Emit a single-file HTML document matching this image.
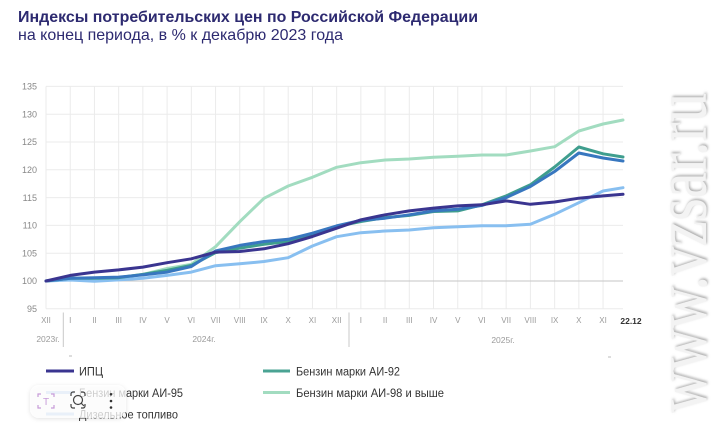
<!DOCTYPE html>
<html><head><meta charset="utf-8"><style>
html,body{margin:0;padding:0;background:#fff;}
svg{display:block;}
</style></head><body>
<svg width="716" height="431" viewBox="0 0 716 431" xmlns="http://www.w3.org/2000/svg" font-family="Liberation Sans, Arial, sans-serif">
<defs>
<filter id="wm" x="-20%" y="-20%" width="140%" height="140%">
<feDropShadow dx="1.5" dy="1" stdDeviation="1.3" flood-color="#8a8a8a" flood-opacity="0.7"/>
</filter>
<filter id="tb" x="-20%" y="-30%" width="140%" height="160%">
<feDropShadow dx="0" dy="1" stdDeviation="2" flood-color="#000" flood-opacity="0.15"/>
</filter>
</defs>
<rect width="716" height="431" fill="#fff"/>
<text x="18" y="22" font-size="16" font-weight="bold" fill="#2d2a70" textLength="460" lengthAdjust="spacingAndGlyphs">Индексы потребительских цен по Российской Федерации</text>
<text x="18" y="40" font-size="16" fill="#2d2a70" textLength="325" lengthAdjust="spacingAndGlyphs">на конец периода, в % к декабрю 2023 года</text>

<g stroke="#ebebeb" stroke-width="1">
<line x1="46" y1="86.4" x2="623" y2="86.4"/>
<line x1="46" y1="114.2" x2="623" y2="114.2"/>
<line x1="46" y1="142" x2="623" y2="142"/>
<line x1="46" y1="169.8" x2="623" y2="169.8"/>
<line x1="46" y1="197.6" x2="623" y2="197.6"/>
<line x1="46" y1="225.4" x2="623" y2="225.4"/>
<line x1="46" y1="253.2" x2="623" y2="253.2"/>
<line x1="46" y1="308.8" x2="623" y2="308.8"/>
<line x1="46" y1="86.4" x2="46" y2="308.8"/>
<line x1="70.22" y1="86.4" x2="70.22" y2="308.8"/>
<line x1="94.44" y1="86.4" x2="94.44" y2="308.8"/>
<line x1="118.66" y1="86.4" x2="118.66" y2="308.8"/>
<line x1="142.88" y1="86.4" x2="142.88" y2="308.8"/>
<line x1="167.1" y1="86.4" x2="167.1" y2="308.8"/>
<line x1="191.32" y1="86.4" x2="191.32" y2="308.8"/>
<line x1="215.54" y1="86.4" x2="215.54" y2="308.8"/>
<line x1="239.76" y1="86.4" x2="239.76" y2="308.8"/>
<line x1="263.98" y1="86.4" x2="263.98" y2="308.8"/>
<line x1="288.2" y1="86.4" x2="288.2" y2="308.8"/>
<line x1="312.42" y1="86.4" x2="312.42" y2="308.8"/>
<line x1="336.64" y1="86.4" x2="336.64" y2="308.8"/>
<line x1="360.86" y1="86.4" x2="360.86" y2="308.8"/>
<line x1="385.08" y1="86.4" x2="385.08" y2="308.8"/>
<line x1="409.3" y1="86.4" x2="409.3" y2="308.8"/>
<line x1="433.52" y1="86.4" x2="433.52" y2="308.8"/>
<line x1="457.74" y1="86.4" x2="457.74" y2="308.8"/>
<line x1="481.96" y1="86.4" x2="481.96" y2="308.8"/>
<line x1="506.18" y1="86.4" x2="506.18" y2="308.8"/>
<line x1="530.4" y1="86.4" x2="530.4" y2="308.8"/>
<line x1="554.62" y1="86.4" x2="554.62" y2="308.8"/>
<line x1="578.84" y1="86.4" x2="578.84" y2="308.8"/>
<line x1="603.06" y1="86.4" x2="603.06" y2="308.8"/>
</g>
<line x1="46" y1="281" x2="623" y2="281" stroke="#c6c6c6" stroke-width="1"/>

<g font-size="9" fill="#888" text-anchor="end">
<text x="37" y="89.6">135</text>
<text x="37" y="117.4">130</text>
<text x="37" y="145.2">125</text>
<text x="37" y="173">120</text>
<text x="37" y="200.8">115</text>
<text x="37" y="228.6">110</text>
<text x="37" y="256.4">105</text>
<text x="37" y="284.2">100</text>
<text x="37" y="312">95</text>
</g>

<g font-size="8" fill="#9a9a9a" text-anchor="middle">
<text x="46" y="323">XII</text>
<text x="70.22" y="323">I</text>
<text x="94.44" y="323">II</text>
<text x="118.66" y="323">III</text>
<text x="142.88" y="323">IV</text>
<text x="167.1" y="323">V</text>
<text x="191.32" y="323">VI</text>
<text x="215.54" y="323">VII</text>
<text x="239.76" y="323">VIII</text>
<text x="263.98" y="323">IX</text>
<text x="288.2" y="323">X</text>
<text x="312.42" y="323">XI</text>
<text x="336.64" y="323">XII</text>
<text x="360.86" y="323">I</text>
<text x="385.08" y="323">II</text>
<text x="409.3" y="323">III</text>
<text x="433.52" y="323">IV</text>
<text x="457.74" y="323">V</text>
<text x="481.96" y="323">VI</text>
<text x="506.18" y="323">VII</text>
<text x="530.4" y="323">VIII</text>
<text x="554.62" y="323">IX</text>
<text x="578.84" y="323">X</text>
<text x="603.06" y="323">XI</text>
</g>
<g font-size="8.5" fill="#9a9a9a" text-anchor="middle">
<text x="48" y="342">2023г.</text>
<text x="204" y="342">2024г.</text>
<text x="503" y="343">2025г.</text>
</g>
<text x="631" y="324" font-size="8.5" font-weight="bold" fill="#333" text-anchor="middle">22.12</text>
<line x1="63.3" y1="312.5" x2="63.3" y2="347" stroke="#c8c8c8" stroke-width="1"/>
<line x1="349" y1="312.5" x2="349" y2="347" stroke="#c8c8c8" stroke-width="1"/>
<line x1="69" y1="356" x2="72" y2="356" stroke="#bbb" stroke-width="1"/>
<line x1="608" y1="357" x2="611" y2="357" stroke="#bbb" stroke-width="1"/>

<g fill="none" stroke-width="3" stroke-linejoin="round" stroke-linecap="round">
<polyline stroke="#a2dcc0" points="46,281 70.22,279.3 94.44,278.2 118.66,277.5 142.88,274.5 167.1,268.5 191.32,264.3 215.54,246.7 239.76,221.7 263.98,198.3 288.2,186 312.42,177.3 336.64,167.3 360.86,162.7 385.08,160 409.3,159 433.52,157.3 457.74,156.3 481.96,155 506.18,155 530.4,151 554.62,146.7 578.84,131 603.06,124 623,120"/>
<polyline stroke="#88bff0" points="46,281 70.22,280 94.44,281.3 118.66,279.9 142.88,278.2 167.1,275.4 191.32,272.1 215.54,265.7 239.76,263.8 263.98,261.5 288.2,257.7 312.42,246 336.64,236.7 360.86,232.7 385.08,231 409.3,230 433.52,227.7 457.74,226.7 481.96,225.7 506.18,225.7 530.4,224.3 554.62,214.3 578.84,202.7 603.06,191 623,187.7"/>
<polyline stroke="#3f9e8e" points="46,281 70.22,278.2 94.44,278.2 118.66,277.7 142.88,274.3 167.1,270.4 191.32,265.4 215.54,252.6 239.76,248.2 263.98,244.3 288.2,241.5 312.42,234.9 336.64,226.5 360.86,221.5 385.08,217.6 409.3,215.4 433.52,211.5 457.74,210.9 481.96,204.8 506.18,195.9 530.4,184.8 554.62,167 578.84,147 603.06,153.8 623,157"/>
<polyline stroke="#3877bf" points="46,281 70.22,278.2 94.44,277.7 118.66,277.1 142.88,274.9 167.1,272.1 191.32,266.5 215.54,251 239.76,245.4 263.98,241.5 288.2,239.3 312.42,233.2 336.64,225.9 360.86,220.4 385.08,218.2 409.3,214.8 433.52,210.9 457.74,209.3 481.96,205.4 506.18,197.6 530.4,186.5 554.62,171.5 578.84,153 603.06,158 623,161"/>
<polyline stroke="#3a3590" points="46,281 70.22,275.4 94.44,272.1 118.66,269.9 142.88,267.1 167.1,262.7 191.32,258.8 215.54,252.1 239.76,251.5 263.98,248.8 288.2,243.7 312.42,236.5 336.64,228.2 360.86,219.8 385.08,214.8 409.3,210.9 433.52,208.1 457.74,205.9 481.96,204.8 506.18,200.9 530.4,204.3 554.62,202 578.84,198.2 603.06,195.9 623,194.3"/>
</g>

<g stroke-width="3" stroke-linecap="butt">
<line x1="46" y1="371" x2="74" y2="371" stroke="#3a3590"/>
<line x1="46" y1="392.5" x2="74" y2="392.5" stroke="#a9cbf0"/>
<line x1="46" y1="414" x2="74" y2="414" stroke="#a9cbf0"/>
<line x1="263" y1="371" x2="290" y2="371" stroke="#4aa393"/>
<line x1="263" y1="392.5" x2="290" y2="392.5" stroke="#a2dcc0"/>
</g>
<g font-size="11.5" fill="#333">
<text x="79" y="375.5" textLength="24" lengthAdjust="spacingAndGlyphs">ИПЦ</text>
<text x="79" y="397" textLength="104" lengthAdjust="spacingAndGlyphs">Бензин марки АИ-95</text>
<text x="79" y="418.5" textLength="99" lengthAdjust="spacingAndGlyphs">Дизельное топливо</text>
<text x="296" y="375.5" textLength="104" lengthAdjust="spacingAndGlyphs">Бензин марки АИ-92</text>
<text x="296" y="397" textLength="148" lengthAdjust="spacingAndGlyphs">Бензин марки АИ-98 и выше</text>
</g>

<g filter="url(#tb)">
<rect x="30" y="385" width="96" height="33" rx="9" fill="#fff" fill-opacity="0.75"/>
</g>
<g fill="none" stroke="#c79bd9" stroke-width="1.2">
<path d="M38,397 v-3 h3 M51,394 h3 v3 M54,405 v3 h-3 M41,408 h-3 v-3"/>
</g>
<text x="46" y="405" font-size="10" fill="#c79bd9" text-anchor="middle">T</text>
<g fill="none" stroke="#444" stroke-width="1.2">
<circle cx="78" cy="400" r="4.5"/>
<line x1="81.3" y1="403.3" x2="84" y2="406"/>
<path d="M71,396 v-2 a2,2 0 0 1 2,-2 h2 M81,392 h2 a2,2 0 0 1 2,2 v2 M85,404 v2 a2,2 0 0 1 -2,2 h-2 M75,408 h-2 a2,2 0 0 1 -2,-2 v-2"/>
</g>
<g fill="#333">
<circle cx="111" cy="394.3" r="1.3"/>
<circle cx="111" cy="401" r="1.3"/>
<circle cx="111" cy="407.5" r="1.3"/>
</g>

<text transform="translate(706,413) rotate(-90)" font-family="Liberation Serif, serif" font-size="74" fill="#f3f3f3" filter="url(#wm)" textLength="320" lengthAdjust="spacingAndGlyphs">www.vzsar.ru</text>
</svg>
</body></html>
